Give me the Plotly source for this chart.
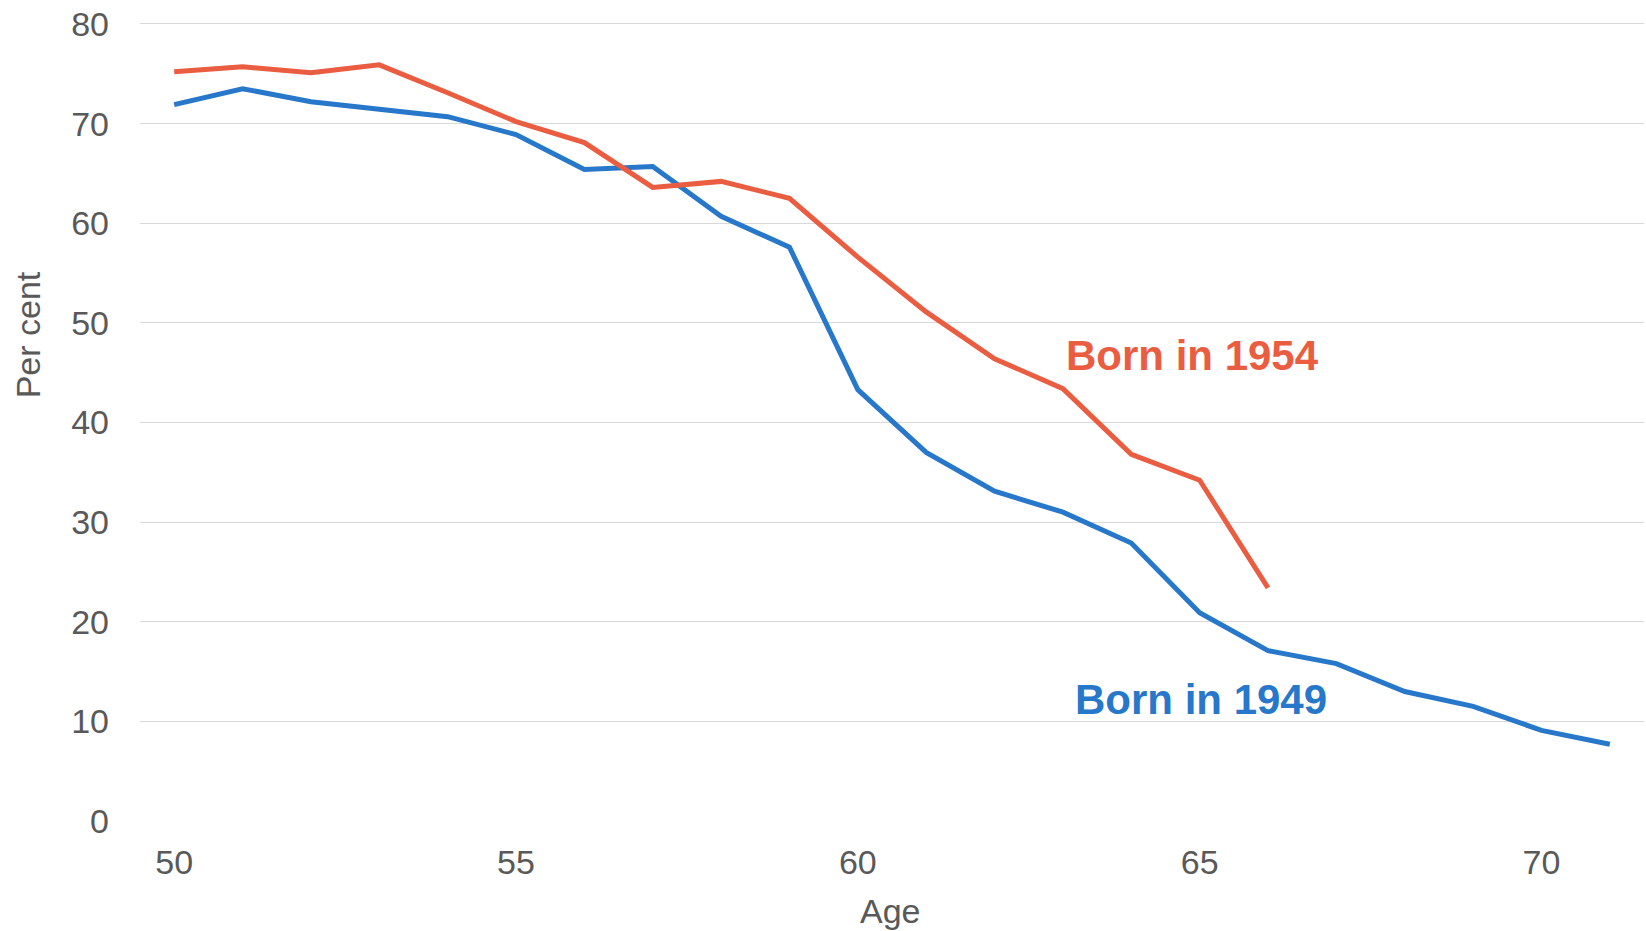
import plotly.graph_objects as go

ages_1949 = list(range(50, 72))
born_1949 = [71.9, 73.5, 72.2, 71.5, 70.7, 68.9, 65.4, 65.7, 60.7, 57.6, 43.3,
             37.0, 33.1, 31.0, 27.9, 20.9, 17.1, 15.8, 13.0, 11.5, 9.1, 7.7]
ages_1954 = list(range(50, 67))
born_1954 = [75.2, 75.7, 75.1, 75.9, 73.1, 70.2, 68.1, 63.6, 64.2, 62.5, 56.6,
             51.1, 46.4, 43.4, 36.8, 34.2, 23.4]

x_ticks = [50, 55, 60, 65, 70]
y_ticks = [0, 10, 20, 30, 40, 50, 60, 70, 80]

BLUE = "#2777CA"
ORANGE = "#EA5D40"
GREY = "#595959"
FONT = "Liberation Sans, Arial, sans-serif"

fig = go.Figure()
fig.add_trace(go.Scatter(x=ages_1949, y=born_1949, mode="lines",
                         line=dict(color=BLUE, width=5), name="Born in 1949",
                         showlegend=False))
fig.add_trace(go.Scatter(x=ages_1954, y=born_1954, mode="lines",
                         line=dict(color=ORANGE, width=5), name="Born in 1954",
                         showlegend=False))

fig.add_annotation(x=64.9, y=46.7, text="<b>Born in 1954</b>", showarrow=False,
                   font=dict(family=FONT, size=42, color=ORANGE),
                   xanchor="center", yanchor="middle")
fig.add_annotation(x=65.02, y=12.15, text="<b>Born in 1949</b>", showarrow=False,
                   font=dict(family=FONT, size=42, color=BLUE),
                   xanchor="center", yanchor="middle")
fig.add_annotation(xref="paper", yref="paper", x=-0.0745, y=0.609,
                   text="Per cent", textangle=-90, showarrow=False,
                   font=dict(family=FONT, size=34, color=GREY),
                   xanchor="center", yanchor="middle")
fig.add_annotation(xref="paper", yref="paper", x=0.4987, y=-0.113,
                   text="Age", showarrow=False,
                   font=dict(family=FONT, size=34, color=GREY),
                   xanchor="center", yanchor="middle")

fig.update_layout(
    width=1646, height=931,
    margin=dict(l=140, r=2, t=22, b=110),
    paper_bgcolor="white", plot_bgcolor="white",
    font=dict(family=FONT, size=34, color=GREY),
    xaxis=dict(range=[49.5, 71.5], tickvals=x_ticks, ticktext=[str(v) for v in x_ticks],
               showgrid=False, zeroline=False, showline=False, ticks="",
               ticklabelstandoff=18, automargin=False,
               tickfont=dict(family=FONT, size=34, color=GREY)),
    yaxis=dict(range=[0, 80.2], tickvals=y_ticks, showgrid=True,
               gridcolor="#D9D9D9", gridwidth=1.3, zeroline=False, showline=False,
               ticks="", ticklabelstandoff=30, automargin=False,
               tickfont=dict(family=FONT, size=34, color=GREY)),
)

fig.write_html(
    "out.html",
    config={"displayModeBar": False},
    post_script="document.body.style.margin='0';document.body.style.overflow='hidden';",
)
